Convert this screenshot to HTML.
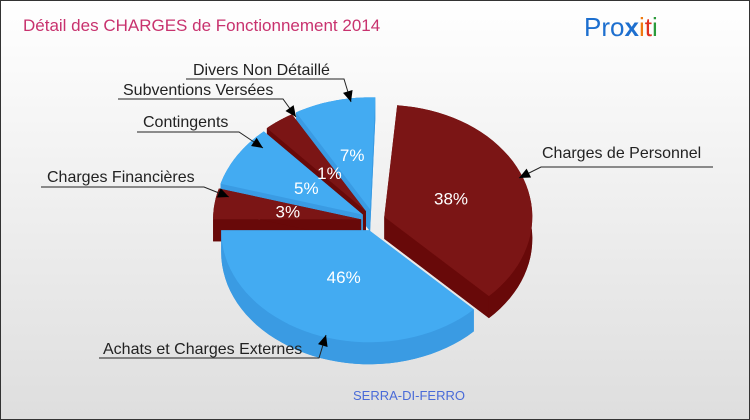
<!DOCTYPE html>
<html><head><meta charset="utf-8"><style>
body{margin:0}
#wrap{position:relative;width:748px;height:418px;border:1px solid #333;background:linear-gradient(#fff,#dedede);overflow:hidden;font-family:"Liberation Sans",sans-serif}
</style></head><body>
<div id="wrap">
<svg id="chart" width="748" height="418">
<text x="22" y="30" font-size="17" fill="#c8326e">Détail des CHARGES de Fonctionnement 2014</text>
<g font-size="26" font-family="Liberation Sans,sans-serif">
<text x="583" y="35"><tspan fill="#1d6fcf">Pro</tspan><tspan fill="#1d6fcf" font-weight="bold">x</tspan><tspan fill="#f07a10">i</tspan><tspan fill="#e03020">t</tspan><tspan fill="#2a9a3a">i</tspan></text>
</g>
<text x="408" y="399" font-size="13" fill="#4a6bd8" text-anchor="middle">SERRA-DI-FERRO</text>
</svg>
</div>
<script>
const categories=["Charges de Personnel","Achats et Charges Externes","Charges Financières","Contingents","Subventions Versées","Divers Non Détaillé"];
const values=[38,46,3,5,1,7];
const pctLabels=["38%","46%","3%","5%","1%","7%"];
const kinds=["red","blue","red","blue","red","blue"];
const NS="http://www.w3.org/2000/svg";
const svg=document.getElementById('chart');
const cx=372,cy=220,rx=148,ry=112,dep=22;
const knotsT=[0,0.38,0.84,0.87,0.92,0.93,1],knotsA=[-85,45,180,196,228,240,272];
function angle(t){for(let i=1;i<knotsT.length;i++){if(t<=knotsT[i]+1e-9){const f=(t-knotsT[i-1])/(knotsT[i]-knotsT[i-1]);return (knotsA[i-1]+f*(knotsA[i]-knotsA[i-1]))*Math.PI/180;}}return knotsA[knotsA.length-1]*Math.PI/180;}
const col={red:{top:"#7b1515",side:"#680909"},blue:{top:"#43abf2",side:"#3a9be3"}};
const total=values.reduce((a,b)=>a+b,0);
let cum=0;const slices=[];
values.forEach((v,i)=>{const a0=angle(cum/total);cum+=v;const a1=angle(cum/total);slices.push({i,a0,a1,mid:(a0+a1)/2});});
function pt(c,a,dy){return [c[0]+rx*Math.cos(a),c[1]+ry*Math.sin(a)+(dy||0)];}
function arcPath(c,a0,a1,dy){let d="";const n=40;for(let k=0;k<=n;k++){const p=pt(c,a0+(a1-a0)*k/n,dy);d+=(k?"L":"")+p[0].toFixed(1)+","+p[1].toFixed(1)+" ";}return d;}
function mk(tag,attrs){const e=document.createElementNS(NS,tag);for(const k in attrs)e.setAttribute(k,attrs[k]);return e;}
const g=mk('g',{});svg.appendChild(g);
const order=slices.slice().sort((a,b)=>Math.sin(a.mid)-Math.sin(b.mid));
order.forEach(s=>{
 const ex=s.i>=2?12:(s.i==0?12:10);
 const c=[cx+ex*Math.cos(s.mid),cy+ex*Math.sin(s.mid)];
 const cc=col[kinds[s.i]];
 const grp=mk('g',{});
 
 
 grp.appendChild(mk('path',{d:"M"+c[0]+","+(c[1]+dep)+" L"+arcPath(c,s.a0,s.a1,dep)+"Z",fill:cc.side}));
 [s.a0,s.a1].forEach(a=>{const p=pt(c,a);grp.appendChild(mk('path',{d:`M${c[0]},${c[1]} L${p[0]},${p[1]} L${p[0]},${p[1]+dep} L${c[0]},${c[1]+dep}Z`,fill:cc.side}));});
 const n=40;let d="M";for(let k=0;k<=n;k++){const p=pt(c,s.a0+(s.a1-s.a0)*k/n);d+=(k?"L":"")+p[0].toFixed(1)+","+p[1].toFixed(1)+" ";}
 for(let k=n;k>=0;k--){const p=pt(c,s.a0+(s.a1-s.a0)*k/n,dep);d+="L"+p[0].toFixed(1)+","+p[1].toFixed(1)+" ";}
 grp.appendChild(mk('path',{d:d+"Z",fill:cc.side}));
 grp.appendChild(mk('path',{d:"M"+c[0]+","+c[1]+" L"+arcPath(c,s.a0,s.a1,0)+"Z",fill:cc.top}));
 g.appendChild(grp);
 s.c=c;
});
const lblR=[0.48,0.45,0.5,0.45,0.42,0.5];
slices.forEach(s=>{const r=lblR[s.i];const x=s.c[0]+rx*r*Math.cos(s.mid),y=s.c[1]+ry*r*Math.sin(s.mid)+6;
 const t=mk('text',{x:x,y:y,fill:"#fff","font-size":17,"text-anchor":"middle"});t.textContent=pctLabels[s.i];
 
 
 svg.appendChild(t);});
const callouts=[
 {tx:541,ty:157,lx1:712,lx2:540,ly:166,ax:518,ay:177},
 {tx:102,ty:353,lx1:98,lx2:318,ly:357,ax:325,ay:334},
 {tx:46,ty:181,lx1:40,lx2:203,ly:186,ax:228,ay:196},
 {tx:142,ty:126,lx1:136,lx2:238,ly:131,ax:262,ay:147},
 {tx:122,ty:94,lx1:117,lx2:282,ly:98,ax:295,ay:116},
 {tx:192,ty:74,lx1:185,lx2:343,ly:78,ax:350,ay:101}];
callouts.forEach((c,i)=>{
 const l=mk('path',{d:`M${c.lx1},${c.ly} L${c.lx2},${c.ly} L${c.ax},${c.ay}`,fill:"none",stroke:"#222","stroke-width":1});
 
 
 svg.appendChild(l);
 const ang=Math.atan2(c.ay-c.ly,c.ax-c.lx2);const L=11,W=5;
 const bx=c.ax-L*Math.cos(ang),by=c.ay-L*Math.sin(ang);
 const ar=mk('path',{d:`M${c.ax},${c.ay} L${bx+W*Math.sin(ang)},${by-W*Math.cos(ang)} L${bx-W*Math.sin(ang)},${by+W*Math.cos(ang)}Z`,fill:"#000"});
 
 
 svg.appendChild(ar);
 const t=mk('text',{x:c.tx,y:c.ty,"font-size":16,fill:"#222"});t.textContent=categories[i];
 
 
 svg.appendChild(t);
});
</script>
</body></html>
